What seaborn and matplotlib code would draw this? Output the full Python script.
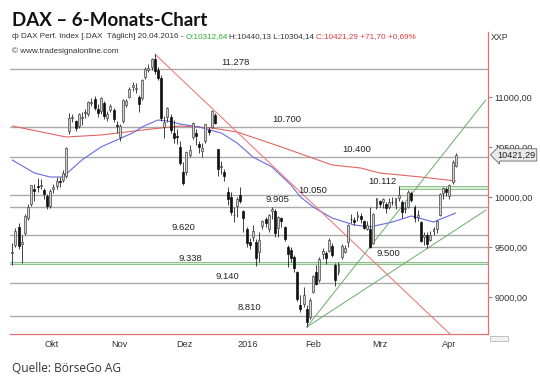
import matplotlib
matplotlib.use("Agg")
import matplotlib.pyplot as plt
import matplotlib.transforms as mtransforms
from matplotlib.patches import Rectangle
import numpy as np
import pandas as pd
import seaborn as sns

W, H = 540, 389

# Xetra trading days shown in the chart
holidays = pd.to_datetime(["2015-12-24", "2015-12-25", "2015-12-31",
                           "2016-01-01", "2016-03-25", "2016-03-28"])
days = pd.bdate_range("2015-09-29", "2016-04-20")
days = days[~days.isin(holidays)]

# daily OHLC
opens = [9440, 9520, 9700, 9530, 9640, 9790, 9930, 10080, 10110, 10110,
         10070, 10010, 9910, 10080, 10110, 10160, 10170, 10210, 10660, 10790,
         10760, 10710, 10790, 10840, 10830, 10940, 10980, 10880, 10860, 10940,
         10790, 10870, 10870, 10720, 10600, 10760, 10920, 11000, 11100, 11080,
         11000, 10990, 11200, 11270, 11300, 11380, 11270, 11190, 10700, 10800,
         10800, 10640, 10610, 10500, 10250, 10250, 10420, 10600, 10640, 10530,
         10460, 10560, 10670, 10700, 10820, 10480, 10300, 10250, 10050, 10000,
         9820, 9910, 10020, 9860, 9680, 9550, 9600, 9550, 9450, 9710,
         9780, 9680, 9860, 9860, 9690, 9790, 9700, 9500, 9470, 9400,
         9250, 8920, 8930, 8880, 8800, 9050, 9250, 9170, 9430, 9440,
         9460, 9510, 9320, 9250, 9400, 9450, 9550, 9780, 9770, 9800,
         9810, 9760, 9680, 9680, 9540, 9900, 9960, 9950, 9930, 9900,
         9950, 9920, 9990, 9950, 9880, 9900, 10040, 9900, 9800, 9750,
         9600, 9620, 9570, 9660, 9680, 9820, 10040, 10080, 10010, 10150,
         10312.64]
highs = [9545, 9690, 9745, 9620, 9830, 9930, 10125, 10130, 10190, 10180,
         10090, 10030, 10080, 10130, 10200, 10200, 10270, 10500, 10840, 10830,
         10770, 10840, 10850, 10880, 10960, 10990, 11010, 10930, 11000, 10960,
         10860, 10930, 10890, 10760, 10730, 10980, 10980, 11100, 11150, 11140,
         11020, 11180, 11300, 11330, 11390, 11430, 11300, 11220, 10810, 10900,
         10830, 10770, 10680, 10560, 10350, 10460, 10520, 10750, 10680, 10560,
         10540, 10730, 10700, 10870, 10840, 10485, 10360, 10280, 10100, 10050,
         9900, 10000, 10100, 9870, 9700, 9590, 9720, 9580, 9650, 9770,
         9800, 9830, 9900, 9880, 9810, 9800, 9710, 9520, 9500, 9420,
         9260, 9020, 9100, 8920, 8990, 9220, 9320, 9400, 9490, 9460,
         9590, 9540, 9340, 9350, 9530, 9520, 9730, 9830, 9800, 9860,
         9840, 9770, 9760, 9900, 9840, 9995, 9970, 9990, 9950, 9990,
         10000, 9990, 10112, 9970, 9950, 10070, 10060, 9920, 9870, 9760,
         9650, 9650, 9660, 9700, 9770, 10040, 10100, 10100, 10130, 10370,
         10440.13]
lows = [9325, 9500, 9480, 9340, 9620, 9770, 9910, 9960, 10050, 10080,
        9980, 9880, 9890, 10040, 10080, 10100, 10150, 10190, 10630, 10750,
        10660, 10690, 10720, 10790, 10810, 10910, 10870, 10800, 10830, 10780,
        10760, 10850, 10750, 10640, 10560, 10740, 10900, 10990, 11060, 11040,
        10850, 10970, 11180, 11250, 11270, 11230, 11170, 10760, 10590, 10750,
        10640, 10540, 10530, 10320, 10120, 10220, 10400, 10580, 10520, 10440,
        10400, 10540, 10620, 10690, 10730, 10210, 10230, 10160, 9920, 9820,
        9750, 9800, 9940, 9650, 9500, 9480, 9560, 9310, 9350, 9680,
        9700, 9650, 9780, 9600, 9600, 9700, 9560, 9300, 9350, 9250,
        8960, 8850, 8900, 8700, 8780, 9040, 9120, 9150, 9380, 9330,
        9450, 9400, 9110, 9220, 9380, 9440, 9500, 9740, 9720, 9760,
        9740, 9680, 9670, 9495, 9530, 9880, 9900, 9890, 9840, 9880,
        9920, 9880, 9960, 9790, 9840, 9890, 9950, 9750, 9760, 9550,
        9520, 9490, 9560, 9620, 9640, 9810, 9980, 10010, 9980, 10130,
        10304.14]
closes = [9450, 9660, 9509, 9553, 9815, 9902, 10118, 10064, 10096, 10119,
          10032, 9915, 10065, 10104, 10164, 10147, 10238, 10491, 10795, 10801,
          10692, 10831, 10800, 10850, 10951, 10951, 10887, 10845, 10988, 10815,
          10833, 10907, 10782, 10708, 10713, 10971, 10960, 11085, 11119, 11092,
          10933, 11169, 11284, 11293, 11382, 11261, 11190, 10789, 10752, 10886,
          10673, 10592, 10598, 10340, 10139, 10450, 10470, 10738, 10608, 10497,
          10488, 10727, 10653, 10860, 10743, 10283, 10310, 10214, 9979, 9849,
          9825, 9985, 9960, 9794, 9545, 9521, 9664, 9392, 9574, 9764,
          9736, 9822, 9881, 9640, 9798, 9757, 9582, 9434, 9393, 9286,
          8979, 8879, 9017, 8752, 8967, 9206, 9135, 9377, 9463, 9388,
          9573, 9416, 9167, 9331, 9513, 9495, 9717, 9776, 9751, 9824,
          9778, 9692, 9723, 9498, 9831, 9990, 9933, 9983, 9892, 9950,
          9948, 9990, 10022, 9851, 9887, 10046, 9966, 9794, 9822, 9563,
          9624, 9530, 9622, 9683, 9761, 10027, 10094, 10051, 10120, 10350,
          10421.29]

# moving averages, sampled at trading-day positions
blue_x = [0, 7, 12, 16, 22, 28, 33, 38, 41, 46, 49, 53, 59, 66, 71, 76,
          82, 88, 91, 95, 101, 108, 113, 120, 126, 133, 140]
blue_v = [10370, 10240, 10200, 10200, 10370, 10500, 10570, 10640, 10700,
          10770, 10760, 10730, 10700, 10640, 10540, 10400, 10300, 10120,
          10000, 9900, 9790, 9720, 9700, 9750, 9810, 9750, 9840]
red_x = [0, 17, 28, 44, 53, 63, 71, 85, 93, 101, 110, 116, 129, 140]
red_v = [10710, 10600, 10620, 10680, 10710, 10690, 10650, 10500, 10410,
         10320, 10290, 10240, 10200, 10160]

# trend lines (start / end)
down_x, down_v = [45, 138.2], [11430, 8630]
up1_x, up1_v = [93, 149.5], [8700, 10970]
up2_x, up2_v = [93, 149.6], [8700, 9870]

# horizontal levels
levels = [11278, 10700, 10400, 10020, 9905, 9620, 9140, 8810]
level_labels = ["11.278", "10.700", "10.400", "10.050", "9.905", "9.620", "9.140", "8.810"]
label_x = [70.6, 86.7, 108.8, 95.0, 83.6, 53.9, 67.8, 75.0]
label_dy = [65, 70, 70, 45, 70, 70, 65, 85]

months = ["Okt", "Nov", "Dez", "2016", "Feb", "Mrz", "Apr"]
yticks = [9000, 9500, 10000, 10500, 11000]


def fx(px):
    return px / W


def fy(py):
    return 1 - py / H


sns.set_style("white")
plt.rcParams["font.family"] = ["Liberation Sans", "DejaVu Sans"]

fig = plt.figure(figsize=(W / 100, H / 100), dpi=100)
ax = fig.add_axes([fx(10), fy(334), 478 / W, 302 / H])
ax.set_xlim(-0.7, 150.2)
ax.set_ylim(8630, 11650)

# support / resistance lines
for lv in levels:
    ax.axhline(lv, color="#a9a9a9", lw=1.0, zorder=1)
ax.hlines(9500, 113, 150.2, color="#a9a9a9", lw=1.0, zorder=1)
ax.axhspan(9328, 9348, color="#d8ecd8", zorder=1)
ax.axhline(9328, color="#8cc08c", lw=0.7, zorder=1)
ax.axhline(9348, color="#8cc08c", lw=0.7, zorder=1)
ax.fill_between([122, 150.2], 10080, 10112, color="#d8ecd8", zorder=1, lw=0)
ax.hlines([10080, 10112], 122, 150.2, color="#8cc08c", lw=0.7, zorder=1)

for lv, txt, lx, dy in zip(levels, level_labels, label_x, label_dy):
    ax.text(lx, lv + dy, txt, ha="center", va="center", fontsize=6.8, color="#222", zorder=6)
ax.text(117, 10112 + 45, "10.112", ha="center", va="center", fontsize=6.8, color="#222", zorder=6)
ax.text(56.1, 9348 + 40, "9.338", ha="center", va="center", fontsize=6.8, color="#222", zorder=6)
ax.text(118.9, 9500 - 60, "9.500", ha="center", va="center", fontsize=6.8, color="#222", zorder=6)

# moving averages and trend lines
sns.lineplot(x=red_x, y=red_v, ax=ax, color="#e26464", lw=0.8, zorder=2)
sns.lineplot(x=blue_x, y=blue_v, ax=ax, color="#6a6ae0", lw=0.8, zorder=2)
sns.lineplot(x=down_x, y=down_v, ax=ax, color="#ee7d7d", lw=0.8, zorder=2)
sns.lineplot(x=up1_x, y=up1_v, ax=ax, color="#69ad69", lw=0.7, zorder=2)
sns.lineplot(x=up2_x, y=up2_v, ax=ax, color="#69ad69", lw=0.7, zorder=2)

# candles
o, hi, lo, c = map(np.array, (opens, highs, lows, closes))
idx = np.arange(len(c))
up = c >= o
ax.vlines(idx, lo, hi, color="#222222", lw=0.6, zorder=3)
ax.bar(idx[up], (c - o)[up], bottom=o[up], width=0.62, color="#d2d2d2",
       edgecolor="#444444", lw=0.5, zorder=4)
ax.bar(idx[~up], (o - c)[~up], bottom=c[~up], width=0.62, color="#111111",
       edgecolor="#111111", lw=0.5, zorder=4)

# axes styling
for s in ("left", "top"):
    ax.spines[s].set_visible(False)
for s in ("right", "bottom"):
    ax.spines[s].set_color("#e07272")
    ax.spines[s].set_linewidth(0.9)
ax.yaxis.tick_right()
ax.set_yticks(yticks)
ax.set_yticklabels([f"{v},00" for v in yticks])
ax.tick_params(axis="y", length=3, color="#888888", labelsize=6.6, labelcolor="#333333", pad=1.5)

pos = pd.Series(np.arange(len(days)), index=days)
bounds = [pos[days.to_period("M") == p].iloc[0] - 0.5 for p in days.to_period("M").unique()[1:]]
mids = [(a + b) / 2 for a, b in zip(bounds[:-1], bounds[1:])] + [bounds[-1] + 11.5]
ax.set_xticks(bounds)
ax.set_xticklabels([])
ax.set_xticks(mids, minor=True)
ax.set_xticklabels(months, minor=True)
ax.tick_params(axis="x", which="major", length=3, color="#999999", direction="out")
ax.tick_params(axis="x", which="minor", length=0, labelsize=6.6, labelcolor="#333333", pad=4)
ax.set_xlabel("")
ax.set_ylabel("")

# last price box
tr = mtransforms.blended_transform_factory(ax.transAxes, ax.transData)
ax.text(1 + 9 / 478, closes[-1], "10421,29", transform=tr, ha="left", va="center",
        fontsize=6.6, color="#222222", zorder=7, clip_on=False,
        bbox=dict(boxstyle="larrow,pad=0.18", fc="#e9e9e9", ec="#666666", lw=0.6))

# header texts
fig.text(fx(12), fy(20), "DAX – 6-Monats-Chart", fontsize=13.5, fontweight="bold",
         family=["Lato", "DejaVu Sans"], va="center", ha="left", color="#111111")

fig.canvas.draw()
rend = fig.canvas.get_renderer()
pieces = [("ф DAX Perf. Index [.DAX  Täglich] 20.04.2016 -", "#333333"),
          ("O:10312,64", "#2fae2f"),
          ("H:10440,13 L:10304,14", "#333333"),
          ("C:10421,29 +71,70 +0,69%", "#e03a3a")]
xp = 12
for s, col in pieces:
    t = fig.text(fx(xp), fy(37), s, fontsize=5.9, color=col, va="center", ha="left")
    xp += t.get_window_extent(renderer=rend).width + 1.8
fig.text(fx(12), fy(51), "© www.tradesignalonline.com", fontsize=5.9, color="#333333",
         va="center", ha="left")
fig.text(fx(491), fy(37), "XXP", fontsize=6.4, color="#333333", va="center", ha="left")
fig.text(fx(12), fy(369), "Quelle: BörseGo AG", fontsize=8.6, color="#333333",
         family=["Open Sans", "DejaVu Sans"], va="center", ha="left")
fig.add_artist(Rectangle((fx(490), fy(341)), 18 / W, 5 / H, transform=fig.transFigure,
                         fc="#f2f2f2", ec="#aaaaaa", lw=0.5))

fig.savefig("out.png", dpi=100)
